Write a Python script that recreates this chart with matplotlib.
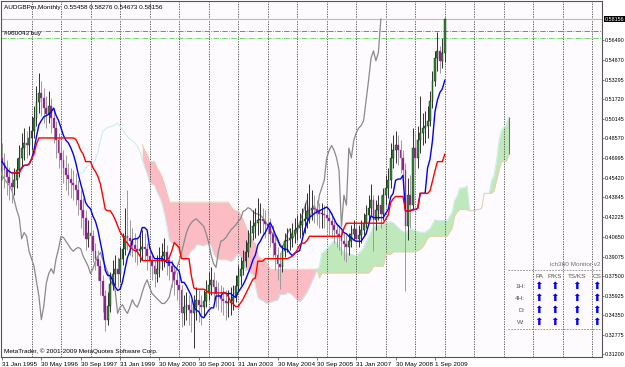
import numpy as np
import pandas as pd
import matplotlib
matplotlib.use("Agg")
import matplotlib.pyplot as plt
import matplotlib.transforms as mtransforms

plt.rcParams['font.family'] = ['Liberation Sans', 'DejaVu Sans']

# =========================
# DATA (monthly AUDGBPm)
# =========================
first_open = 0.470

closes = [
    0.466, 0.460, 0.455, 0.450, 0.447, 0.452, 0.460, 0.470, 0.478, 0.482, 0.480, 0.486,  # 1995
    0.492, 0.502, 0.515, 0.522, 0.518, 0.510, 0.505, 0.512, 0.502, 0.494, 0.484, 0.474,  # 1996
    0.468, 0.462, 0.456, 0.453, 0.450, 0.448, 0.444, 0.436, 0.428, 0.422, 0.405, 0.410,  # 1997
    0.407, 0.395, 0.389, 0.383, 0.371, 0.359, 0.340, 0.351, 0.369, 0.377, 0.381, 0.377,  # 1998
    0.389, 0.397, 0.407, 0.406, 0.403, 0.400, 0.397, 0.395, 0.397, 0.398, 0.397, 0.391,  # 1999
    0.387, 0.383, 0.377, 0.381, 0.387, 0.391, 0.394, 0.388, 0.383, 0.378, 0.372, 0.368,  # 2000
    0.364, 0.345, 0.350, 0.352, 0.348, 0.345, 0.350, 0.356, 0.352, 0.350, 0.355, 0.362,  # 2001
    0.368, 0.372, 0.366, 0.361, 0.359, 0.357, 0.355, 0.353, 0.353, 0.355, 0.358, 0.367,  # 2002
    0.375, 0.381, 0.387, 0.394, 0.402, 0.410, 0.415, 0.418, 0.420, 0.421, 0.419, 0.417,  # 2003
    0.415, 0.409, 0.402, 0.392, 0.385, 0.382, 0.395, 0.403, 0.404, 0.406, 0.409, 0.412,  # 2004
    0.414, 0.416, 0.419, 0.421, 0.427, 0.428, 0.430, 0.429, 0.427, 0.425, 0.425, 0.424,  # 2005
    0.422, 0.419, 0.416, 0.412, 0.409, 0.407, 0.403, 0.401, 0.398, 0.403, 0.409, 0.413,  # 2006
    0.405, 0.408, 0.412, 0.418, 0.424, 0.430, 0.436, 0.420, 0.428, 0.432, 0.425, 0.440,  # 2007
    0.446, 0.452, 0.470, 0.476, 0.480, 0.476, 0.470, 0.460, 0.415, 0.440, 0.432, 0.478,  # 2008
    0.470, 0.484, 0.490, 0.494, 0.496, 0.500, 0.516, 0.532, 0.550, 0.556, 0.548, 0.55458,  # 2009
    0.58156,
]

highs = [
    0.482, 0.474, 0.468, 0.463, 0.458, 0.462, 0.470, 0.480, 0.490, 0.494, 0.492, 0.496,
    0.504, 0.512, 0.528, 0.538, 0.532, 0.526, 0.520, 0.524, 0.518, 0.510, 0.500, 0.490,
    0.484, 0.476, 0.472, 0.466, 0.462, 0.460, 0.458, 0.452, 0.444, 0.438, 0.428, 0.420,
    0.420, 0.412, 0.402, 0.396, 0.388, 0.376, 0.364, 0.362, 0.378, 0.388, 0.392, 0.390,
    0.398, 0.410, 0.430, 0.444, 0.420, 0.414, 0.410, 0.406, 0.408, 0.412, 0.410, 0.402,
    0.398, 0.394, 0.388, 0.392, 0.398, 0.402, 0.406, 0.400, 0.392, 0.388, 0.384, 0.378,
    0.376, 0.368, 0.360, 0.362, 0.360, 0.356, 0.360, 0.366, 0.364, 0.360, 0.364, 0.372,
    0.378, 0.382, 0.378, 0.372, 0.370, 0.368, 0.366, 0.364, 0.364, 0.366, 0.368, 0.376,
    0.384, 0.390, 0.396, 0.404, 0.412, 0.420, 0.428, 0.430, 0.438, 0.434, 0.430, 0.428,
    0.428, 0.422, 0.416, 0.408, 0.398, 0.394, 0.400, 0.410, 0.414, 0.414, 0.418, 0.422,
    0.424, 0.426, 0.430, 0.434, 0.442, 0.449, 0.444, 0.440, 0.436, 0.434, 0.434, 0.432,
    0.432, 0.428, 0.426, 0.422, 0.418, 0.416, 0.412, 0.410, 0.408, 0.410, 0.416, 0.420,
    0.418, 0.416, 0.420, 0.426, 0.432, 0.440, 0.449, 0.440, 0.436, 0.440, 0.440, 0.446,
    0.456, 0.462, 0.482, 0.488, 0.492, 0.488, 0.484, 0.476, 0.466, 0.454, 0.456, 0.494,
    0.490, 0.496, 0.520, 0.506, 0.508, 0.512, 0.524, 0.540, 0.556, 0.571, 0.560, 0.566,
    0.58276,
]

lows = [
    0.452, 0.446, 0.440, 0.436, 0.434, 0.440, 0.446, 0.455, 0.462, 0.468, 0.470, 0.472,
    0.476, 0.486, 0.496, 0.506, 0.504, 0.498, 0.494, 0.498, 0.490, 0.482, 0.470, 0.462,
    0.456, 0.450, 0.444, 0.440, 0.438, 0.436, 0.432, 0.424, 0.414, 0.408, 0.396, 0.398,
    0.396, 0.386, 0.380, 0.372, 0.360, 0.346, 0.331, 0.336, 0.346, 0.364, 0.368, 0.366,
    0.370, 0.384, 0.392, 0.396, 0.392, 0.390, 0.386, 0.384, 0.386, 0.388, 0.386, 0.380,
    0.376, 0.372, 0.366, 0.370, 0.374, 0.380, 0.382, 0.376, 0.372, 0.366, 0.360, 0.356,
    0.352, 0.334, 0.336, 0.340, 0.336, 0.330, 0.317, 0.340, 0.338, 0.336, 0.342, 0.350,
    0.356, 0.360, 0.356, 0.350, 0.348, 0.346, 0.344, 0.340, 0.342, 0.344, 0.348, 0.354,
    0.362, 0.368, 0.376, 0.382, 0.390, 0.398, 0.404, 0.406, 0.408, 0.410, 0.408, 0.406,
    0.404, 0.398, 0.390, 0.380, 0.372, 0.365, 0.378, 0.390, 0.394, 0.396, 0.398, 0.402,
    0.404, 0.406, 0.408, 0.410, 0.414, 0.418, 0.420, 0.418, 0.416, 0.414, 0.414, 0.414,
    0.412, 0.408, 0.406, 0.402, 0.398, 0.396, 0.392, 0.388, 0.386, 0.392, 0.398, 0.404,
    0.398, 0.398, 0.402, 0.408, 0.414, 0.418, 0.424, 0.395, 0.412, 0.420, 0.414, 0.420,
    0.432, 0.438, 0.446, 0.462, 0.466, 0.464, 0.458, 0.446, 0.363, 0.404, 0.414, 0.428,
    0.458, 0.462, 0.474, 0.480, 0.482, 0.486, 0.496, 0.510, 0.528, 0.540, 0.538, 0.542,
    0.54673,
]

date_ticks = [0, 16, 32, 48, 64, 80, 96, 112, 128, 144, 160, 176]
date_labels = ["31 Jan 1995", "30 May 1996", "30 Sep 1997", "31 Jan 1999", "30 May 2000",
               "30 Sep 2001", "31 Jan 2003", "30 May 2004", "30 Sep 2005", "31 Jan 2007",
               "30 May 2008", "1 Sep 2009"]
price_ticks = [0.56490, 0.54870, 0.53295, 0.51720, 0.50145, 0.48570, 0.46995, 0.45420,
               0.43845, 0.42225, 0.40650, 0.39075, 0.37500, 0.35925, 0.34350, 0.32775, 0.31200]

order_price = 0.5720
order_open = 0.5667
order_label = "#960043 buy"
header = "AUDGBPm,Monthly  0.55458 0.58276 0.54673 0.58156"

monitor_cols = ["PA", "P/KS", "TS/KS", "CS"]
monitor_rows = ["1H:", "4H:", "D:", "W:"]

# =========================
# ICHIMOKU
# =========================
opens = [first_open] + closes[:-1]
df = pd.DataFrame({"open": opens, "high": highs, "low": lows, "close": closes})
hi, lo = df["high"], df["low"]
tenkan = (hi.rolling(9, min_periods=1).max() + lo.rolling(9, min_periods=1).min()) / 2
kijun = (hi.rolling(26, min_periods=1).max() + lo.rolling(26, min_periods=1).min()) / 2
span_a = (tenkan + kijun) / 2
span_b = (hi.rolling(52, min_periods=1).max() + lo.rolling(52, min_periods=1).min()) / 2

idx = np.arange(len(df))
shift = 26

# =========================
# FIGURE
# =========================
W, H = 625, 367
fig = plt.figure(figsize=(W / 100, H / 100), dpi=100)
fig.patch.set_facecolor("white")
ax = fig.add_axes([1 / W, 10 / H, 601 / W, 356 / H])
ax.set_facecolor("#fdfbfd")

def px(x, y):
    return x / W, 1 - y / H

# cloud
xs = idx + shift
a = span_a.values
b = span_b.values
m = xs >= 57
ax.fill_between(xs[m], a[m], b[m], where=a[m] >= b[m], color="#bfe8bb", lw=0, interpolate=True)
ax.fill_between(xs[m], a[m], b[m], where=a[m] < b[m], color="#fbbcc4", lw=0, interpolate=True)
ma = xs >= 32
ax.plot(xs[ma], a[ma], color="#c4ecee", lw=0.7)
ax.plot(xs[m], b[m], color="#f5c9a8", lw=0.6)
ax.vlines(xs[-1], min(a[-1], b[-1]), max(a[-1], b[-1]), color="#707070", lw=0.8)

# grid
for g in range(12, 245, 12):
    ax.axvline(g, color="#444444", lw=0.6, ls=(0, (1.5, 1.5)), zorder=1)

# chikou
ax.plot(idx - shift, df["close"], color="#8a8a8a", lw=0.9, zorder=3)

# candles
o = df["open"].values
c = df["close"].values
up = c >= o
ax.vlines(idx[up], lo.values[up], hi.values[up], color="#303030", lw=0.7, zorder=4)
ax.vlines(idx[~up], lo.values[~up], hi.values[~up], color="#9a9a9a", lw=0.7, zorder=4)
body_lo = np.minimum(o, c)
body_h = np.maximum(np.abs(c - o), 0.0008)
ax.bar(idx[up], body_h[up], bottom=body_lo[up], width=0.75, color="#2f8a2f",
       edgecolor="#1e1e1e", lw=0.3, zorder=5)
ax.bar(idx[~up], body_h[~up], bottom=body_lo[~up], width=0.75, color="#7a1e7a",
       edgecolor="#c040c0", lw=0.3, zorder=5)

# tenkan / kijun
ax.plot(idx, tenkan, color="#0000ff", lw=1.0, zorder=6)
ax.plot(idx[4:], kijun[4:], color="#ff0000", lw=1.0, zorder=6)

# horizontal lines
ax.axhline(closes[-1], color="#c8b8b0", lw=0.8, zorder=2)
ax.axhline(order_price, color="#ff3030", lw=0.6, ls="-.", zorder=2)
ax.axhline(order_open, color="#5ccc5c", lw=0.6, ls="-.", zorder=2)

# axes
ax.set_xlim(-0.4, 243.9)
ax.set_ylim(0.30999, 0.59607)
for s in ax.spines.values():
    s.set_color("#555555")
    s.set_linewidth(0.8)
ax.yaxis.tick_right()
ax.set_yticks(price_ticks)
ax.set_yticklabels([f"{p:.5f}" for p in price_ticks])
ax.set_xticks(date_ticks)
ax.set_xticklabels(date_labels, ha="left")
ax.tick_params(axis="x", labelsize=4.6, length=2, width=0.5, color="#444444", pad=1.5)
ax.tick_params(axis="y", labelsize=3.9, length=1.5, width=0.5, color="#444444", pad=0.8)

trans = mtransforms.blended_transform_factory(ax.transAxes, ax.transData)
ax.text(1.004, closes[-1], f"{closes[-1]:.5f}", transform=trans, fontsize=3.9, color="white",
        va="center", ha="left", bbox=dict(facecolor="black", edgecolor="none", pad=0.6))

# texts
fig.text(*px(4, 7), header, fontsize=4.6, va="center", ha="left")
fig.text(*px(4, 33), order_label, fontsize=4.6, va="center", ha="left")
fig.text(*px(4, 351), "MetaTrader, \u00a9 2001-2009 MetaQuotes Software Corp.", fontsize=4.6,
         va="center", ha="left")

# monitor panel
fig.text(*px(600, 265), "ich360 Monitor v2", fontsize=4.6, color="#707070", va="center", ha="right")
fig.add_artist(plt.Line2D([508 / W, 600 / W], [1 - 270 / H, 1 - 270 / H], color="#888888",
                          lw=0.6, ls=(0, (2, 1.5))))
fig.add_artist(plt.Line2D([508 / W, 600 / W], [1 - 329 / H, 1 - 329 / H], color="#888888",
                          lw=0.6, ls=(0, (2, 1.5))))
col_x = [539, 555, 577, 597]
row_y = [286, 298, 310, 322]
for cx, name in zip(col_x, monitor_cols):
    fig.text(*px(cx, 277), name, fontsize=4.6, color="#555555", va="center", ha="center")
for ry, name in zip(row_y, monitor_rows):
    fig.text(*px(525, ry), name, fontsize=4.6, color="#555555", va="center", ha="right")
    for cx in col_x:
        fig.text(*px(cx, ry), "\u2b06", fontsize=7.5, color="#0000ff", va="center", ha="center",
                 family="DejaVu Sans")

fig.savefig("out.png", dpi=100)
